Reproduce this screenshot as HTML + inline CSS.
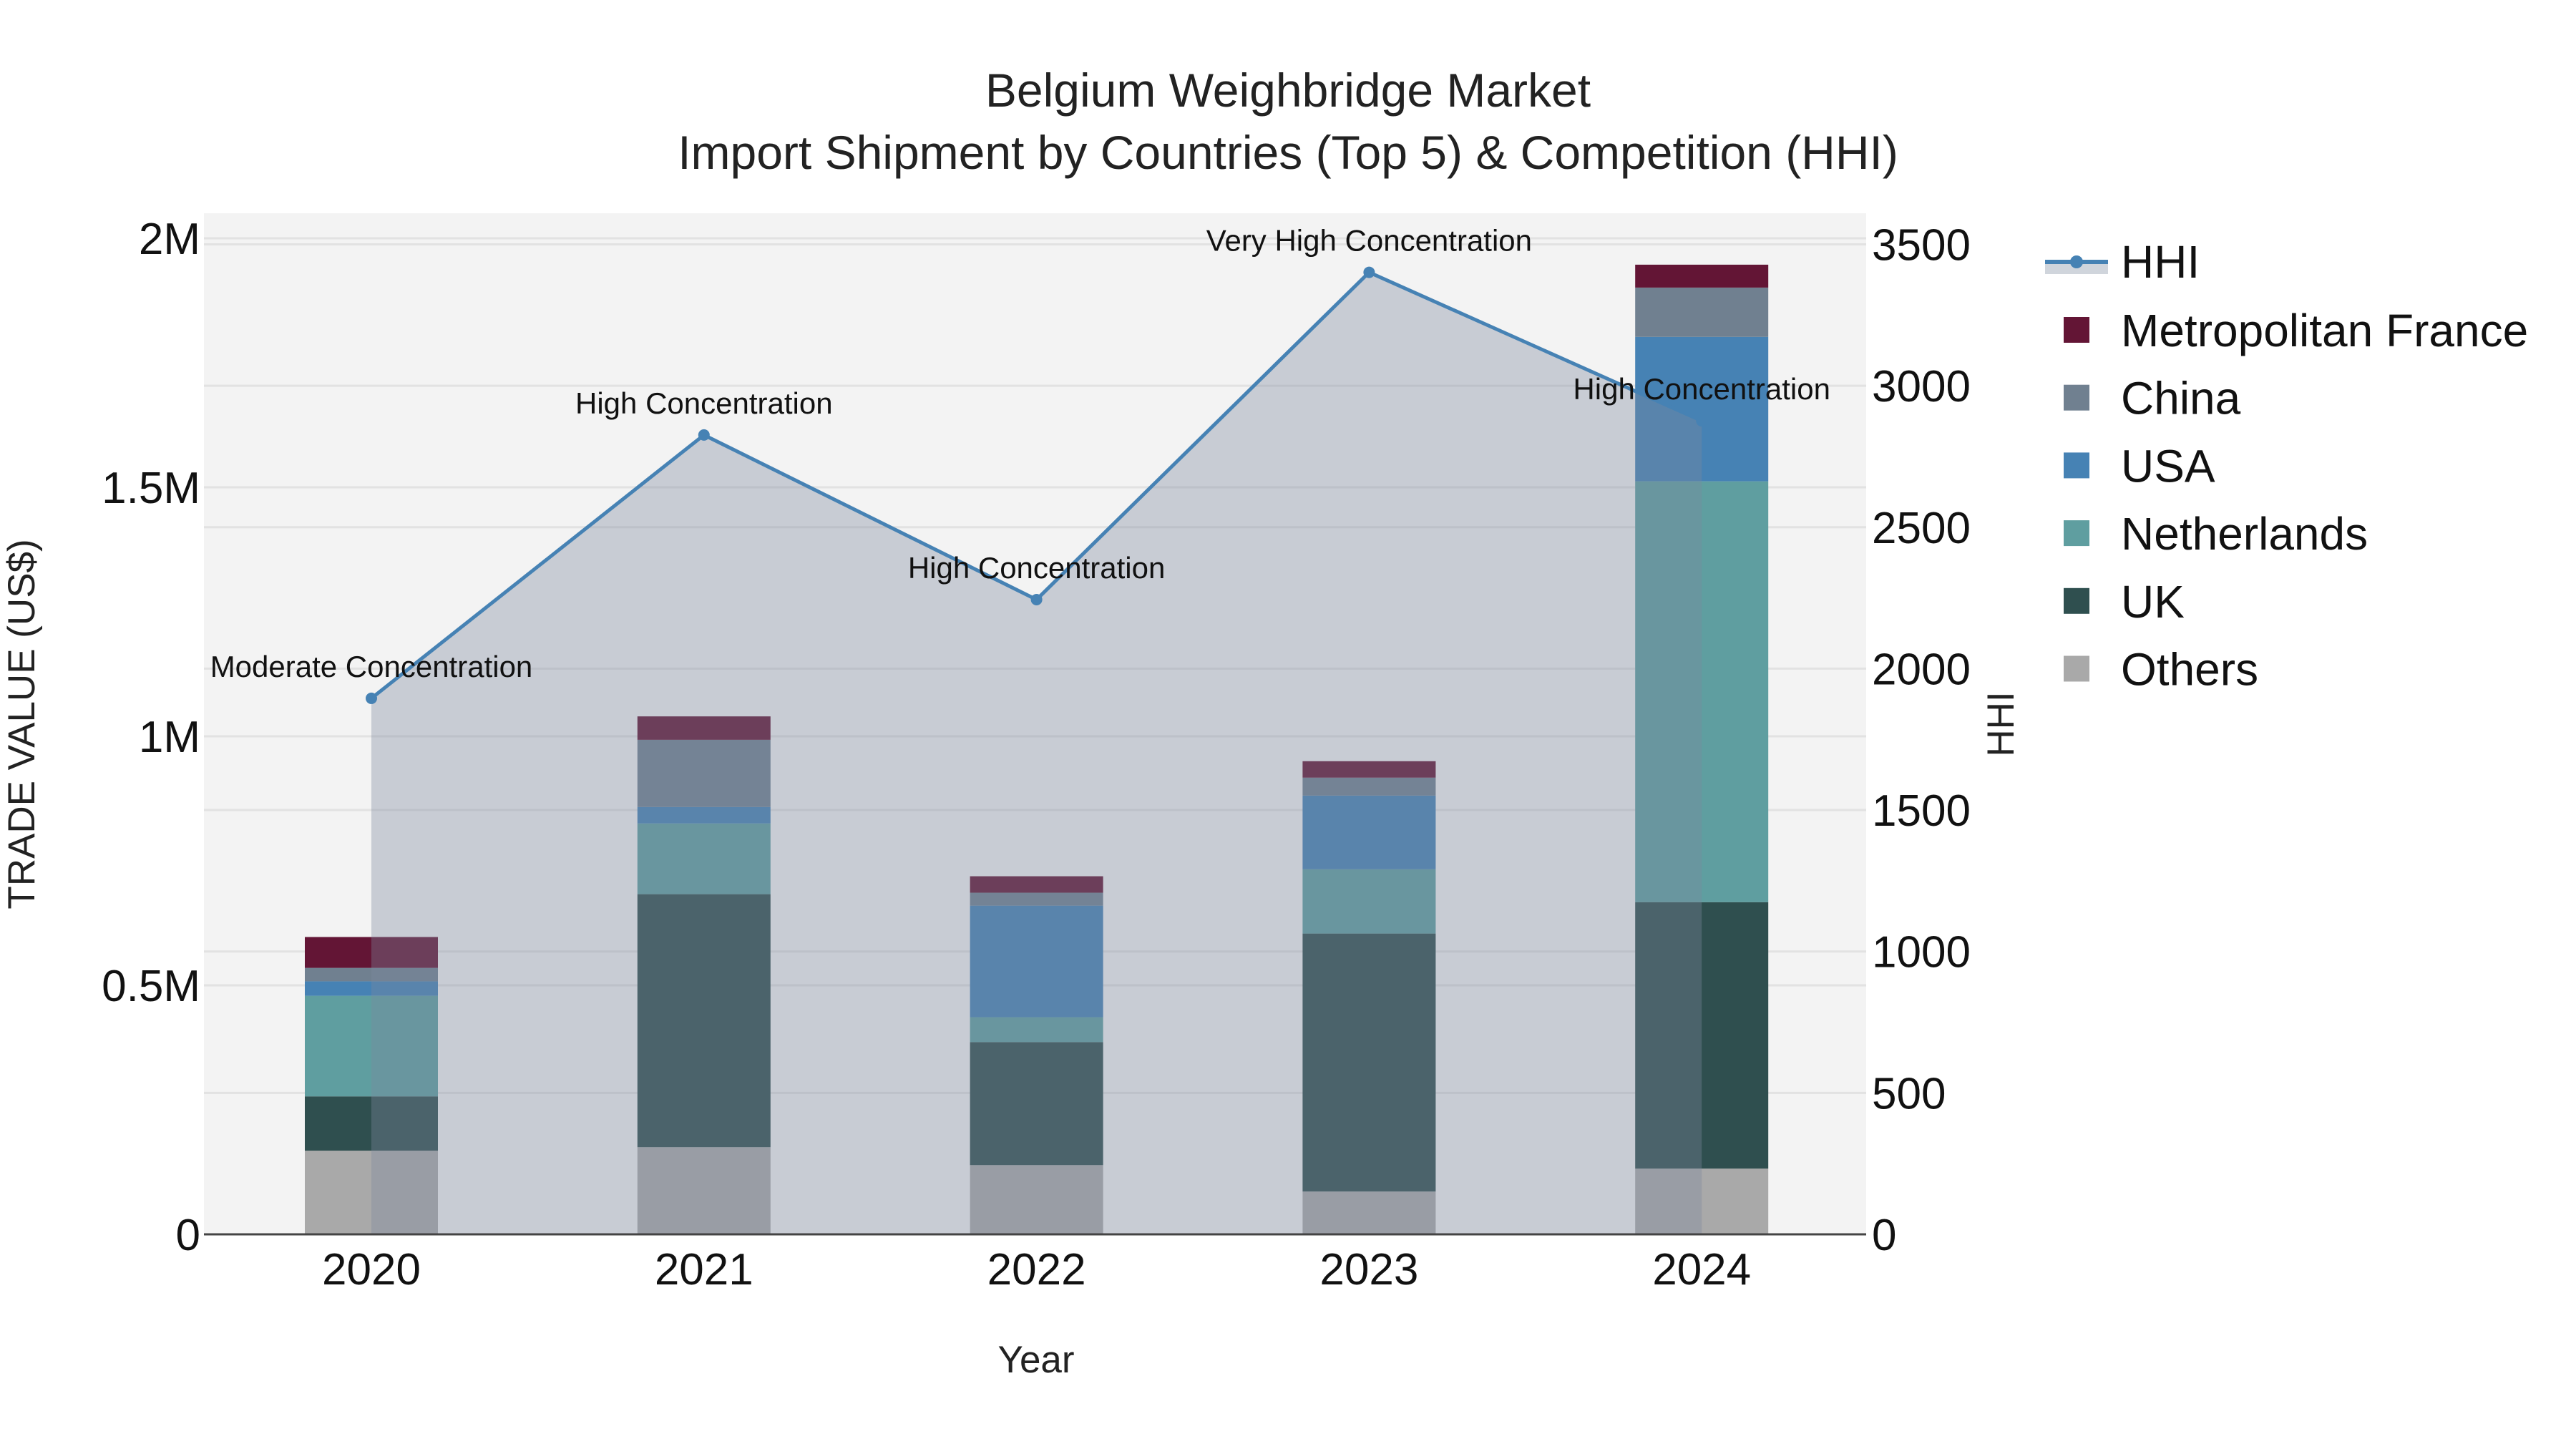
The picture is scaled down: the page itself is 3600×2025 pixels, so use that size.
<!DOCTYPE html>
<html><head><meta charset="utf-8">
<style>
html,body{margin:0;padding:0;background:#fff;}
svg{display:block;font-family:"Liberation Sans",Arial,sans-serif;}
</style></head>
<body>
<svg id="chart" width="3600" height="2025" viewBox="0 0 3600 2025" xmlns="http://www.w3.org/2000/svg">
  <rect x="0" y="0" width="3600" height="2025" fill="#ffffff"/>
  <rect x="285" y="298" width="2323" height="1427" fill="#f3f3f3"/>
  <g id="grid"></g>
  <g id="bars"></g>
  <g id="hhi"></g>
  <g id="axes"></g>
  <text x="1800" y="149" font-size="66" text-anchor="middle" fill="#222">Belgium Weighbridge Market</text>
  <text x="1800" y="236" font-size="66" text-anchor="middle" fill="#222">Import Shipment by Countries (Top 5) &amp; Competition (HHI)</text>
  <text x="1448" y="1918" font-size="53" text-anchor="middle" fill="#222">Year</text>
  <text x="0" y="0" font-size="53" text-anchor="middle" fill="#222" transform="translate(48,1012) rotate(-90)">TRADE VALUE (US$)</text>
  <text x="0" y="0" font-size="53" text-anchor="middle" fill="#222" transform="translate(2814,1012) rotate(-90)">HHI</text>
  <g id="legend"></g>
</svg>
<script>
const years = ["2020","2021","2022","2023","2024"];
const others = [0.168, 0.175, 0.139, 0.086, 0.132];
const uk = [0.109, 0.508, 0.247, 0.518, 0.535];
const netherlands = [0.202, 0.142, 0.050, 0.129, 0.845];
const usa = [0.029, 0.033, 0.224, 0.148, 0.290];
const china = [0.027, 0.135, 0.026, 0.036, 0.099];
const france = [0.062, 0.047, 0.033, 0.033, 0.046];
const hhiValues = [1895, 2826, 2244, 3401, 2876];
const hhiLabels = ["Moderate Concentration","High Concentration","High Concentration","Very High Concentration","High Concentration"];
const yTickValues = [0, 0.5, 1, 1.5, 2];
const yTickLabels = ["0","0.5M","1M","1.5M","2M"];
const y2TickValues = [0,500,1000,1500,2000,2500,3000,3500];
const seriesNames = ["Others","UK","Netherlands","USA","China","Metropolitan France"];
const seriesColors = ["#a9a9a9","#2f4f4f","#5f9ea0","#4682b4","#708090","#631535"];
const seriesData = [others, uk, netherlands, usa, china, france];

const NS = "http://www.w3.org/2000/svg";
const X0 = 285, X1 = 2608, BASE = 1725;
const xPos = i => 519 + i * 464.8;
const yL = v => BASE - v * 696;
const yR = h => BASE - h * 0.3953;
const BW = 186;
function mk(tag, attrs, parent){ const e=document.createElementNS(NS,tag); for(const k in attrs) e.setAttribute(k,attrs[k]); parent.appendChild(e); return e; }

const grid = document.getElementById('grid');
yTickValues.forEach(v=>{ if(v===0) return;
  const l = mk('line',{x1:X0,x2:X1,y1:yL(v),y2:yL(v),stroke:'#e2e2e2','stroke-width':3},grid);
  
  
});
y2TickValues.forEach(v=>{ if(v===0) return;
  const l = mk('line',{x1:X0,x2:X1,y1:yR(v),y2:yR(v),stroke:'#e2e2e2','stroke-width':3},grid);
  
  
});

const bars = document.getElementById('bars');
years.forEach((yr,i)=>{
  let cum = 0;
  seriesData.forEach((arr,s)=>{
    const v = arr[i];
    const r = mk('rect',{x:xPos(i)-BW/2,y:yL(cum+v),width:BW,height:yL(cum)-yL(cum+v),fill:seriesColors[s]},bars);
    
    
    cum += v;
  });
});

const hhi = document.getElementById('hhi');
let d = 'M'+xPos(0)+','+BASE;
hhiValues.forEach((h,i)=>{ d += ' L'+xPos(i)+','+yR(h); });
d += ' L'+xPos(hhiValues.length-1)+','+BASE+' Z';
const area = mk('path',{d:d,fill:'rgba(124,135,157,0.36)'},hhi);


const line = mk('polyline',{points:hhiValues.map((h,i)=>xPos(i)+','+yR(h)).join(' '),fill:'none',stroke:'#4682b4','stroke-width':5},hhi);


hhiValues.forEach((h,i)=>{
  const c = mk('circle',{cx:xPos(i),cy:yR(h),r:8,fill:'#4682b4'},hhi);
  
  
  const t = mk('text',{x:xPos(i),y:yR(h)-30,'font-size':42,'text-anchor':'middle',fill:'#111'},hhi);
  t.textContent = hhiLabels[i];
  
  
});

const axes = document.getElementById('axes');
const zl = mk('line',{x1:X0,x2:X1,y1:BASE,y2:BASE,stroke:'#444','stroke-width':3},axes);


yTickValues.forEach((v,i)=>{
  const t = mk('text',{x:280,y:yL(v)+22,'font-size':62,'text-anchor':'end',fill:'#111'},axes);
  t.textContent = yTickLabels[i];
  
  
});
y2TickValues.forEach(v=>{
  const t = mk('text',{x:2616,y:yR(v)+22,'font-size':62,'text-anchor':'start',fill:'#111'},axes);
  t.textContent = String(v);
  
  
});
years.forEach((yr,i)=>{
  const t = mk('text',{x:xPos(i),y:1795,'font-size':62,'text-anchor':'middle',fill:'#111'},axes);
  t.textContent = yr;
  
  
});

const legend = document.getElementById('legend');
const lg0 = mk('g',{},legend);


mk('rect',{x:2858,y:365,width:88,height:18,fill:'#d0d5dc'},lg0);
mk('line',{x1:2858,x2:2946,y1:366,y2:366,stroke:'#4682b4','stroke-width':6},lg0);
mk('circle',{cx:2902,cy:366,r:9,fill:'#4682b4'},lg0);
const lt0 = mk('text',{x:2964,y:388,'font-size':64,fill:'#111'},lg0);
lt0.textContent = 'HHI';
const legendOrder = [5,4,3,2,1,0];
legendOrder.forEach((s,k)=>{
  const cy = 461 + k*94.7;
  const g = mk('g',{},legend);
  
  
  mk('rect',{x:2884,y:cy-18,width:36,height:36,fill:seriesColors[s]},g);
  const t = mk('text',{x:2964,y:cy+23,'font-size':64,fill:'#111'},g);
  t.textContent = seriesNames[s];
});
</script>
</body></html>
